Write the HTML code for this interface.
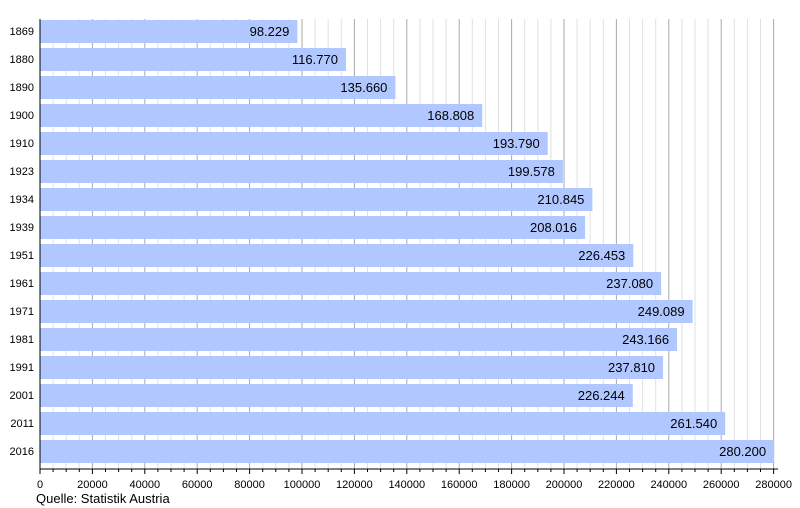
<!DOCTYPE html>
<html><head><meta charset="utf-8"><style>
body{margin:0;background:#fff;}
svg{display:block;font-family:"Liberation Sans",sans-serif;}
</style></head><body>
<svg width="800" height="508" xmlns="http://www.w3.org/2000/svg" id="s"></svg>
<script>
const s=document.getElementById('s');
const X0=40,K=0.00262,TOP=19,AX=469;
let h='';
for(let v=5000;v<=280000;v+=5000){
  const x=X0+v*K;
  const maj=v%20000==0;
  h+=`<line x1="${x}" y1="${TOP}" x2="${x}" y2="${AX}" stroke="${maj?'#aaa':'#e0e0e0'}" stroke-width="1"/>`;
}
const d=[[1869,98229],[1880,116770],[1890,135660],[1900,168808],[1910,193790],[1923,199578],[1934,210845],[1939,208016],[1951,226453],[1961,237080],[1971,249089],[1981,243166],[1991,237810],[2001,226244],[2011,261540],[2016,280200]];
d.forEach((r,i)=>{
  const y=20+28*i,w=r[1]*K;
  h+=`<rect x="${X0}" y="${y}" width="${w}" height="23" fill="#b0c8ff"/>`;
  const t=(r[1]/1000).toFixed(3);
  h+=`<text x="${X0+w-8}" y="${y+16}" font-size="13" text-anchor="end" fill="#000">${t}</text>`;
  h+=`<text x="34" y="${y+15}" font-size="11" text-anchor="end" fill="#000">${r[0]}</text>`;
});
h+=`<line x1="${X0}" y1="${TOP}" x2="${X0}" y2="${AX}" stroke="#000"/>`;
h+=`<line x1="${X0}" y1="${AX}" x2="778" y2="${AX}" stroke="#000"/>`;
for(let v=0;v<=280000;v+=5000){
  const x=X0+v*K,maj=v%20000==0;
  h+=`<line x1="${x}" y1="${AX}" x2="${x}" y2="${AX+(maj?5:3)}" stroke="#000"/>`;
  if(maj)h+=`<text x="${x}" y="${AX+19}" font-size="11" text-anchor="middle">${v}</text>`;
}
h+=`<text x="36" y="503" font-size="13">Quelle: Statistik Austria</text>`;
s.innerHTML=h;
</script>
</body></html>
